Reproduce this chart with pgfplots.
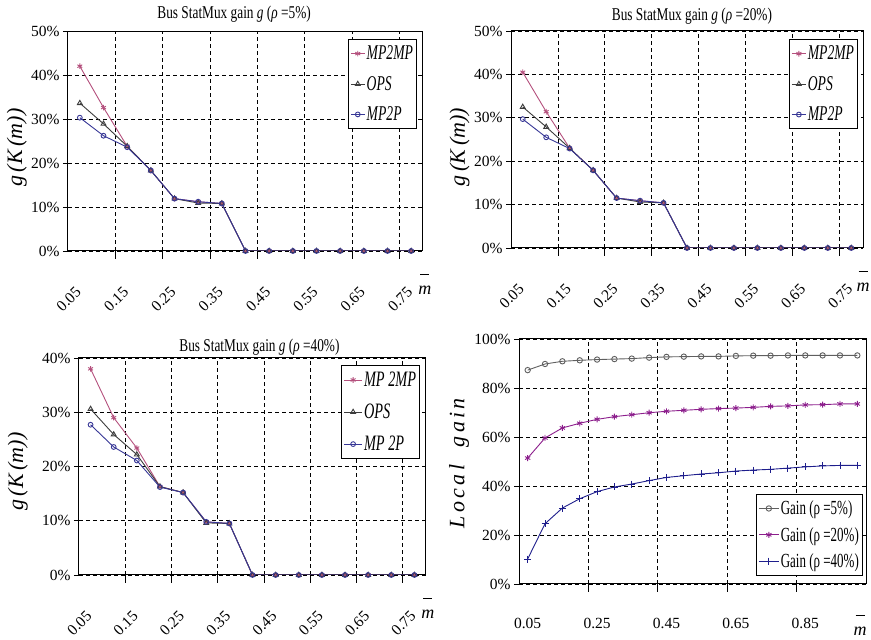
\documentclass[border=0pt]{standalone}
\usepackage{fontspec}
\setmainfont{Liberation Serif}
\newfontfamily\condfont{Liberation Serif}[FakeStretch=0.65]
\newfontfamily\titlefont{Liberation Serif}[FakeStretch=0.74]
\usepackage{pgfplots}
\usepackage{pgfplotstable}
\pgfplotsset{compat=1.18}

\definecolor{cmpmp}{RGB}{180,80,125}
\definecolor{cops}{RGB}{60,60,60}
\definecolor{cmpp}{RGB}{55,55,150}
\definecolor{cg5}{RGB}{95,95,95}
\definecolor{cg20}{RGB}{140,30,140}
\definecolor{cg40}{RGB}{30,30,140}

% StatMux gain, rho = 5%
\pgfplotstableread{
m    mpmp  ops   mpp
0.05 42.0  33.6  30.3
0.10 32.6  28.9  26.2
0.15 23.8  23.8  23.6
0.20 18.3  18.3  18.3
0.25 11.9  11.9  11.9
0.30 11.2  10.9  11.2
0.35 10.8  10.8  10.8
0.40 0     0     0
0.45 0     0     0
0.50 0     0     0
0.55 0     0     0
0.60 0     0     0
0.65 0     0     0
0.70 0     0     0
0.75 0     0     0
}\tabA
% rho = 20%
\pgfplotstableread{
m    mpmp  ops   mpp
0.05 40.5  32.5  29.7
0.10 31.4  27.9  25.5
0.15 23.0  23.0  22.9
0.20 17.9  17.9  17.9
0.25 11.5  11.5  11.5
0.30 10.9  10.6  10.9
0.35 10.4  10.4  10.4
0.40 0     0     0
0.45 0     0     0
0.50 0     0     0
0.55 0     0     0
0.60 0     0     0
0.65 0     0     0
0.70 0     0     0
0.75 0     0     0
}\tabB
% rho = 40%
\pgfplotstableread{
m    mpmp  ops   mpp
0.05 38.0  30.6  27.7
0.10 29.0  25.9  23.6
0.15 23.4  22.2  21.1
0.20 16.3  16.3  16.2
0.25 15.2  15.2  15.2
0.30 9.8   9.6   9.8
0.35 9.5   9.5   9.5
0.40 0     0     0
0.45 0     0     0
0.50 0     0     0
0.55 0     0     0
0.60 0     0     0
0.65 0     0     0
0.70 0     0     0
0.75 0     0     0
}\tabC
% local gain
\pgfplotstableread{
m    g5    g20   g40
0.05 87.3  51.4  10.2
0.10 89.8  59.6  24.6
0.15 90.9  63.7  31.0
0.20 91.3  65.6  34.8
0.25 91.6  67.2  37.7
0.30 91.8  68.3  39.6
0.35 92.0  69.1  40.8
0.40 92.4  69.9  42.2
0.45 92.7  70.5  43.5
0.50 92.8  70.9  44.2
0.55 92.9  71.3  44.9
0.60 92.9  71.6  45.4
0.65 93.1  71.8  46.1
0.70 93.2  72.1  46.5
0.75 93.2  72.5  46.8
0.80 93.3  72.7  47.3
0.85 93.3  73.1  47.8
0.90 93.3  73.2  48.2
0.95 93.3  73.5  48.4
1.00 93.3  73.5  48.4
}\tabD

\pgfplotsset{
  panel/.style={
    scale only axis, anchor=south west,
    axis line style={line width=1pt},
    tick align=outside, tick pos=left,
    major tick length=5pt, minor tick length=8pt,
    tick style={black, line width=0.8pt},
    major x tick style={draw=none},
    ymajorgrids, xminorgrids,
    grid style={black, line width=0.8pt, dash pattern=on 4pt off 3pt},
    ymin=0,
    /pgf/number format/assume math mode=true,
    yticklabel={\pgfmathprintnumber{\tick}\%},
    ticklabel style={font=\fontsize{15.5}{16}\selectfont},
    title style={font=\titlefont\fontsize{18}{18}\selectfont, anchor=center},
    ylabel style={anchor=center},
    legend cell align=left,
    legend style={draw=black, line width=1pt, fill=white,
      font=\condfont\fontsize{21}{22}\selectfont, row sep=12pt,
      inner xsep=2pt, inner ysep=5pt,
      nodes={inner sep=1.5pt}},
    legend image code/.code={\draw[mark repeat=2,mark phase=2,#1] plot coordinates {(0pt,0pt) (7pt,0pt) (14pt,0pt)};},
  },
  gpanel/.style={panel,
    xmin=0.025, xmax=0.775,
    xtick={0.05,0.15,0.25,0.35,0.45,0.55,0.65,0.75},
    xticklabels={0.05,0.15,0.25,0.35,0.45,0.55,0.65,0.75},
    minor xtick={0.125,0.225,0.325,0.425,0.525,0.625,0.725},
    xticklabel style={yshift=-31pt, xshift=1pt, rotate=45, anchor=east},
    xlabel={\rule{9pt}{0.9pt}\\[2pt]\textit{m}},
    xlabel style={at={(rel axis cs:1,0)}, anchor=north, align=center,
      font=\fontsize{18}{18}\selectfont, xshift=2pt, yshift=-19pt},
  },
  s1/.style={color=cmpmp, line width=0.9pt, mark=asterisk, mark size=2.8pt},
  s2/.style={color=cops, line width=0.9pt, mark=triangle, mark size=2.8pt, mark options={fill=white}},
  s3/.style={color=cmpp, line width=0.9pt, mark=o, mark size=2.4pt, mark options={fill=white}},
}

\begin{document}
\begin{tikzpicture}
\path[use as bounding box] (0pt,0pt) rectangle (871pt,640pt);

% top left
\begin{axis}[gpanel, at={(68pt,389pt)}, width=355pt, height=220pt,
  ymax=50, ytick={0,10,...,50},
  title={Bus StatMux gain \textit{g} (\textit{ρ} =5\%)},
  title style={at={(rel axis cs:0.468,1)}, yshift=11pt},
  ylabel={\textit{g\,(K\,(m))}},
  ylabel style={at={(rel axis cs:-0.144,0.47)}, font=\fontsize{22}{22}\selectfont},
  legend style={at={(rel axis cs:0.983,0.964)}, anchor=north east}]
\addplot[s1] table[x=m, y=mpmp] {\tabA};
\addplot[s2] table[x=m, y=ops] {\tabA};
\addplot[s3] table[x=m, y=mpp] {\tabA};
\legend{\textit{MP2MP}, \textit{OPS}, \textit{MP2P}}
\end{axis}

% top right
\begin{axis}[gpanel, at={(511pt,392pt)}, width=352pt, height=217pt,
  ymax=50, ytick={0,10,...,50},
  title={Bus StatMux gain \textit{g} (\textit{ρ} =20\%)},
  title style={at={(rel axis cs:0.514,1)}, yshift=9pt},
  ylabel={\textit{g\,(K\,(m))}},
  ylabel style={at={(rel axis cs:-0.146,0.465)}, font=\fontsize{22}{22}\selectfont},
  xlabel style={xshift=-2pt},
  legend style={at={(rel axis cs:0.986,0.963)}, anchor=north east}]
\addplot[s1] table[x=m, y=mpmp] {\tabB};
\addplot[s2] table[x=m, y=ops] {\tabB};
\addplot[s3] table[x=m, y=mpp] {\tabB};
\legend{\textit{MP2MP}, \textit{OPS}, \textit{MP2P}}
\end{axis}

% bottom left
\begin{axis}[gpanel, at={(79pt,65pt)}, width=347pt, height=217pt,
  ymax=40, ytick={0,10,...,40},
  title={Bus StatMux gain \textit{g} (\textit{ρ} =40\%)},
  title style={at={(rel axis cs:0.52,1)}, yshift=5pt},
  ylabel={\textit{g\,(K\,(m))}},
  ylabel style={at={(rel axis cs:-0.176,0.476)}, font=\fontsize{22}{22}\selectfont},
  legend style={at={(rel axis cs:0.983,0.968)}, anchor=north east, row sep=13pt,
    font=\condfont\fontsize{22}{22}\selectfont},
  legend image code/.code={\draw[mark repeat=2,mark phase=2,#1] plot coordinates {(0pt,0pt) (9pt,0pt) (18pt,0pt)};}]
\addplot[s1] table[x=m, y=mpmp] {\tabC};
\addplot[s2] table[x=m, y=ops] {\tabC};
\addplot[s3] table[x=m, y=mpp] {\tabC};
\legend{\textit{MP 2MP}, \textit{OPS}, \textit{MP 2P}}
\end{axis}

% bottom right
\begin{axis}[panel, at={(519pt,56pt)}, width=347pt, height=245pt,
  xmin=0.025, xmax=1.025,
  xtick={0.05,0.25,0.45,0.65,0.85},
  xticklabels={0.05,0.25,0.45,0.65,0.85},
  minor xtick={0.225,0.425,0.625,0.825},
  xticklabel style={yshift=-26pt},
  ymax=100, ytick={0,20,...,100},
  xlabel={\rule{9pt}{0.9pt}\\[2pt]\textit{m}},
  xlabel style={at={(rel axis cs:1,0)}, anchor=north, align=center,
    font=\fontsize{18}{18}\selectfont, xshift=-6pt, yshift=-27pt},
  ylabel={\addfontfeatures{LetterSpace=15}\textit{Local\ \ gain}},
  ylabel style={at={(rel axis cs:-0.173,0.5)}, font=\fontsize{22}{22}\selectfont},
  legend style={at={(rel axis cs:0.991,0.033)}, anchor=south east, row sep=8pt,
    font=\condfont\fontsize{20}{22}\selectfont},
  legend image code/.code={\draw[mark repeat=2,mark phase=2,#1] plot coordinates {(0pt,0pt) (10pt,0pt) (20pt,0pt)};}]
\addplot[color=cg5, line width=0.9pt, mark=o, mark size=2.7pt, mark options={fill=white}] table[x=m, y=g5] {\tabD};
\addplot[color=cg20, line width=0.9pt, mark=asterisk, mark size=3pt] table[x=m, y=g20] {\tabD};
\addplot[color=cg40, line width=0.9pt, mark=+, mark size=3.5pt] table[x=m, y=g40] {\tabD};
\legend{{Gain (ρ =5\%)}, {Gain (ρ =20\%)}, {Gain (ρ =40\%)}}
\end{axis}
\end{tikzpicture}
\end{document}
